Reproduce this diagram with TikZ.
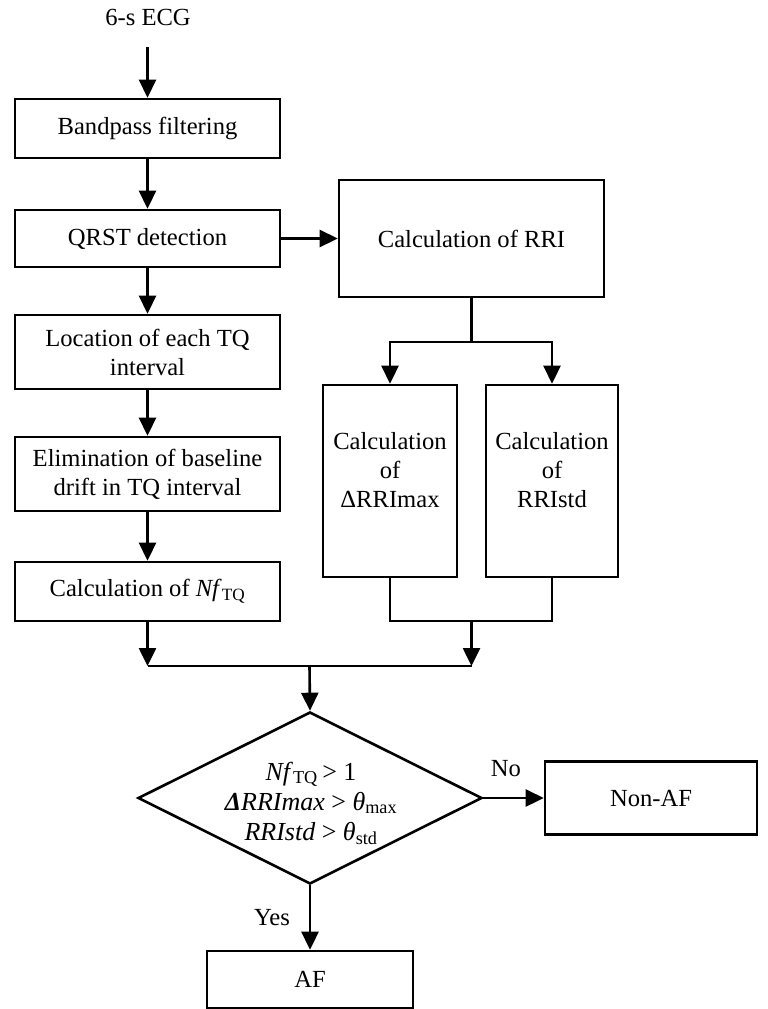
\documentclass[tikz,border=0pt]{standalone}
\usepackage{fontspec}
\setmainfont{Liberation Serif}
\usetikzlibrary{arrows.meta,shapes.geometric}
\begin{document}
\begin{tikzpicture}[x=1pt,y=-1pt,
  box/.style={draw, line width=2.6pt, inner sep=0pt, align=center, font=\fontsize{24.6}{29}\selectfont},
  arr/.style={line width=2.6pt, -{Triangle[length=18pt,width=17pt]}},
  ln/.style={line width=2.6pt},
  lbl/.style={font=\fontsize{24.6}{29}\selectfont, inner sep=0pt}]
\useasboundingbox (0,0) rectangle (768,1009);

\node[lbl] (ecg) at (148,17) {6-s ECG};
\coordinate (ecgb) at (147.5,47);

\node[box, minimum width=265pt, minimum height=59pt] (bp) at (147.5,128.5) {Bandpass filtering};
\node[box, minimum width=265pt, minimum height=57pt] (qrst) at (147.5,238.5) {QRST detection};
\node[box, minimum width=265pt, minimum height=74pt] (loc) at (147.5,352) {Location of each TQ\\interval};
\node[box, minimum width=265pt, minimum height=74pt] (elim) at (147.5,474) {Elimination of baseline\\drift in TQ interval};
\node[box, minimum width=265pt, minimum height=59pt] (nf) at (147.5,591.5) {Calculation of \textit{Nf}\textsubscript{TQ}};

\node[box, minimum width=265pt, minimum height=117pt] (rri) at (471.5,238.5) {Calculation of RRI};
\node[box, minimum width=134pt, minimum height=192pt] (dmax) at (390,481) {Calculation\\of\\ΔRRImax\\[-7pt]\mbox{}};
\node[box, minimum width=132pt, minimum height=192pt] (dstd) at (552,481) {Calculation\\of\\RRIstd\\[-7pt]\mbox{}};

\node[draw, diamond, line width=2.6pt, minimum width=344pt, minimum height=172pt, inner sep=0pt] (dia) at (310,798) {};
\node[align=center, inner sep=0pt, font=\fontsize{26}{30}\selectfont] (diat) at (311,803)
  {\textit{Nf}\textsubscript{TQ} \kern-2pt> 1\\
   \textbf{\textit{Δ}}\textit{RRImax} > \textit{θ}\textsubscript{max}\\
   \textit{RRIstd} > \textit{θ}\textsubscript{std}};

\node[box, minimum width=212pt, minimum height=73pt] (nonaf) at (651,798) {Non-AF};
\node[box, minimum width=206pt, minimum height=57pt] (af) at (310,979.5) {AF};

\coordinate (j1) at (471.5,342);
\coordinate (j2l) at (390,621);
\coordinate (j2r) at (552,621);
\coordinate (j2) at (471.5,621);
\coordinate (j3) at (471.5,666);
\coordinate (j4) at (147.5,666);
\coordinate (j5) at (309.5,666);

\draw[arr] (ecgb) -- (bp.north);
\draw[arr] (bp.south) -- (qrst.north);
\draw[arr] (qrst.east) -- (rri.west);
\draw[arr] (qrst.south) -- (loc.north);
\draw[arr] (loc.south) -- (elim.north);
\draw[arr] (elim.south) -- (nf.north);

\draw[ln] (rri.south) -- (j1);
\draw[arr] (j1) -| (dmax.north);
\draw[arr] (j1) -| (dstd.north);

\draw[ln] (dmax.south) -- (j2l) -- (j2r) -- (dstd.south);
\draw[arr] (j2) -- (j3);
\draw[arr] (nf.south) -- (j4);
\draw[ln] (j4) -- (j3);
\draw[arr] (j5) -- (dia.north);

\draw[arr] (dia.east) -- (nonaf.west);
\draw[arr] (dia.south) -- (af.north);
\node[lbl] (no) at (506,769) {No};
\node[lbl] (yes) at (272,918) {Yes};
\end{tikzpicture}
\end{document}
